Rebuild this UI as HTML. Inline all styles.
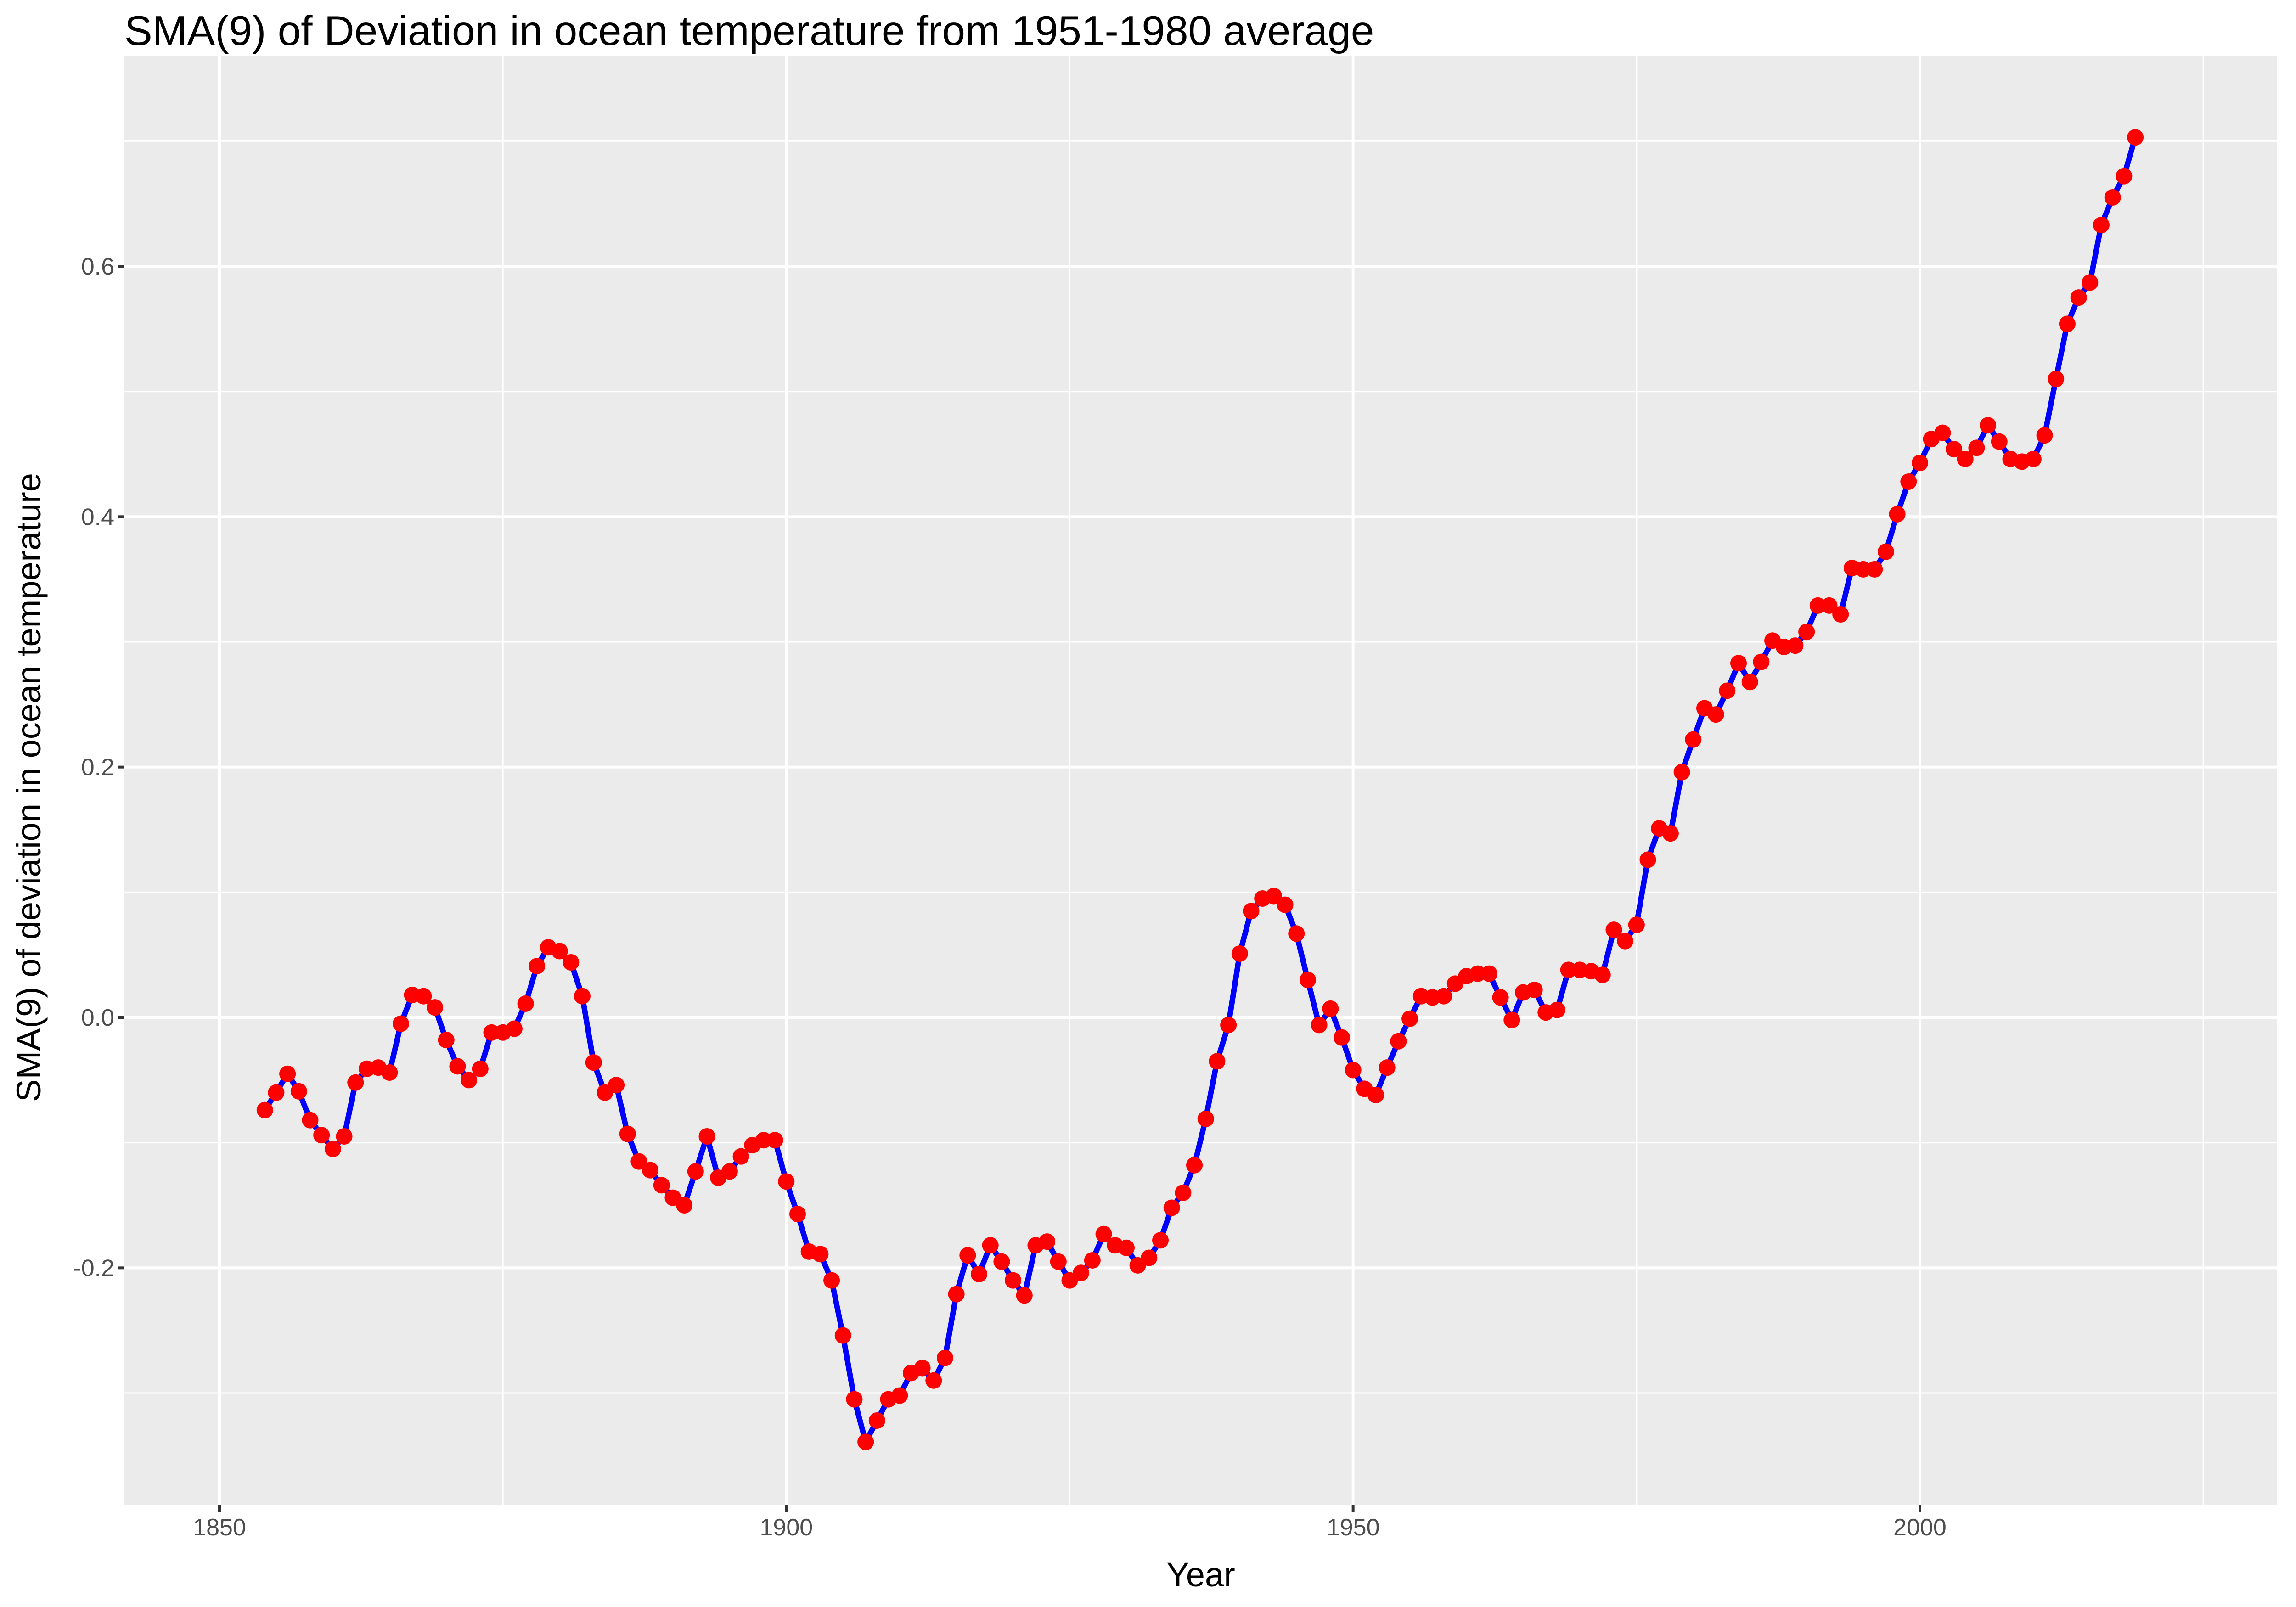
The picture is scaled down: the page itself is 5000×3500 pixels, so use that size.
<!DOCTYPE html>
<html><head><meta charset="utf-8"><style>
html,body{margin:0;padding:0;background:#fff;}
svg{display:block;font-family:"Liberation Sans",Arial,sans-serif;}
</style></head><body>
<svg id="chart" width="5000" height="3500" viewBox="0 0 5000 3500" xmlns="http://www.w3.org/2000/svg">
<rect width="5000" height="3500" fill="#fff"/>
<text x="271" y="98" font-size="91" fill="#000">SMA(9) of Deviation in ocean temperature from 1951-1980 average</text>
<rect x="271" y="121" width="4688" height="3157" fill="#ebebeb"/>
<g id="grid"></g>
<g id="axes"></g>
<g id="series"></g>
<text x="2615" y="3455" font-size="74" text-anchor="middle" fill="#000">Year</text>
<text transform="translate(88,1715) rotate(-90)" font-size="74" text-anchor="middle" fill="#000">SMA(9) of deviation in ocean temperature</text>
</svg>
<script>
const startYear = 1854;
const values = [-0.074,-0.06,-0.045,-0.059,-0.082,-0.094,-0.105,-0.095,-0.052,-0.041,-0.04,-0.044,-0.005,0.018,0.017,0.008,-0.018,-0.039,-0.05,-0.041,-0.012,-0.012,-0.009,0.011,0.041,0.056,0.053,0.044,0.017,-0.036,-0.06,-0.054,-0.093,-0.115,-0.122,-0.134,-0.144,-0.15,-0.123,-0.095,-0.128,-0.123,-0.111,-0.102,-0.098,-0.098,-0.131,-0.157,-0.187,-0.189,-0.21,-0.254,-0.305,-0.339,-0.322,-0.305,-0.302,-0.284,-0.28,-0.29,-0.272,-0.221,-0.19,-0.205,-0.182,-0.195,-0.21,-0.222,-0.182,-0.179,-0.195,-0.21,-0.204,-0.194,-0.173,-0.182,-0.184,-0.198,-0.192,-0.178,-0.152,-0.14,-0.118,-0.081,-0.035,-0.006,0.051,0.085,0.095,0.097,0.09,0.067,0.03,-0.006,0.007,-0.016,-0.042,-0.057,-0.062,-0.04,-0.019,-0.001,0.017,0.016,0.017,0.027,0.033,0.035,0.035,0.016,-0.002,0.02,0.022,0.004,0.006,0.038,0.038,0.037,0.034,0.07,0.061,0.074,0.126,0.151,0.147,0.196,0.222,0.247,0.242,0.261,0.283,0.268,0.284,0.301,0.296,0.297,0.308,0.329,0.329,0.322,0.359,0.358,0.358,0.372,0.402,0.428,0.443,0.462,0.467,0.454,0.446,0.455,0.473,0.46,0.446,0.444,0.446,0.465,0.51,0.554,0.575,0.587,0.633,0.655,0.672,0.703];
const years = values.map((v,i)=>startYear+i);
const xMajor = [1850,1900,1950,2000];
const xMinor = [1875,1925,1975,2025];
const yMajor = [-0.2,0,0.2,0.4,0.6];
const yMinor = [-0.3,-0.1,0.1,0.3,0.5,0.7];
const yLabels = ["-0.2","0.0","0.2","0.4","0.6"];

const L=271,R=4959,T=121,B=3278;
function xs(y){return 478+(y-1850)*(4181-478)/150;}
function ys(v){return 2216-v*2726.7;}
const NS="http://www.w3.org/2000/svg";
function mk(tag,attrs,parent){const e=document.createElementNS(NS,tag);for(const k in attrs)e.setAttribute(k,attrs[k]);parent.appendChild(e);return e;}
const grid=document.getElementById('grid'),axes=document.getElementById('axes'),ser=document.getElementById('series');
xMinor.forEach(v=>{const e=mk('line',{x1:xs(v),x2:xs(v),y1:T,y2:B,stroke:'#fff','stroke-width':3},grid);

});
yMinor.forEach(v=>{const e=mk('line',{x1:L,x2:R,y1:ys(v),y2:ys(v),stroke:'#fff','stroke-width':3},grid);

});
xMajor.forEach(v=>{const e=mk('line',{x1:xs(v),x2:xs(v),y1:T,y2:B,stroke:'#fff','stroke-width':6},grid);


const t=mk('line',{x1:xs(v),x2:xs(v),y1:B,y2:B+15,stroke:'#333','stroke-width':6},axes);


const l=mk('text',{x:xs(v),y:B+66,'font-size':52,'text-anchor':'middle',fill:'#4d4d4d'},axes);l.textContent=v;

});
yMajor.forEach((v,i)=>{const e=mk('line',{x1:L,x2:R,y1:ys(v),y2:ys(v),stroke:'#fff','stroke-width':6},grid);


const t=mk('line',{x1:L-15,x2:L,y1:ys(v),y2:ys(v),stroke:'#333','stroke-width':6},axes);


const l=mk('text',{x:L-22,y:ys(v)+18,'font-size':52,'text-anchor':'end',fill:'#4d4d4d'},axes);l.textContent=yLabels[i];

});
const pts=values.map((v,i)=>xs(years[i]).toFixed(1)+','+ys(v).toFixed(1)).join(' ');
const line=mk('polyline',{points:pts,fill:'none',stroke:'#0000ff','stroke-width':12,'stroke-linejoin':'round'},ser);


values.forEach((v,i)=>{const c=mk('circle',{cx:xs(years[i]),cy:ys(v),r:18,fill:'#ff0000'},ser);

});
</script>
</body></html>
